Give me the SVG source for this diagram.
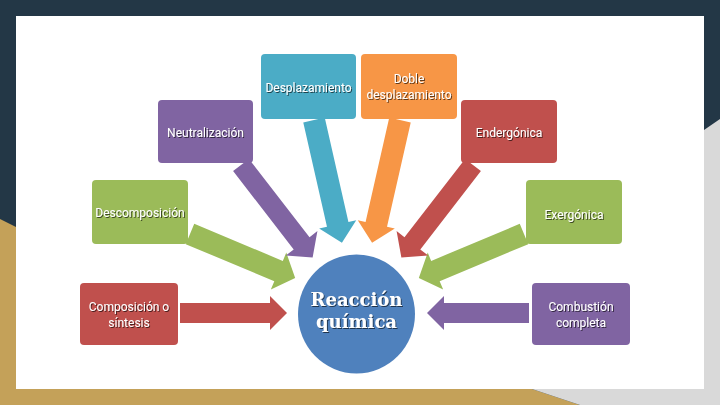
<svg xmlns="http://www.w3.org/2000/svg" width="720" height="405" viewBox="0 0 720 405">
<defs>
<style>
.lbl{font-family:Roboto,"Liberation Sans",sans-serif;font-size:12px;fill:#fff;text-anchor:middle;filter:url(#ts)}
.big{font-family:"DejaVu Serif","Liberation Serif",serif;font-weight:bold;font-size:18px;fill:#fff;text-anchor:middle;filter:url(#ts)}
.blue{fill:#4bacc6}.orange{fill:#f79646}.purple{fill:#8064a2}.red{fill:#c0504d}.green{fill:#9bbb59}
</style>
<filter id="ts" x="-20%" y="-40%" width="140%" height="180%">
<feDropShadow dx="1" dy="1" stdDeviation="0.6" flood-color="#000" flood-opacity="0.6"/>
</filter>
</defs>
<rect width="720" height="405" fill="#233746"/>
<polygon points="0,219 16,227 16,389 532,389 580,405 0,405" fill="#c4a159"/>
<polygon points="720,119 704,130 704,389 532,389 580,405 720,405" fill="#d9d9d9"/>
<rect x="16" y="16" width="688" height="373" fill="#fff"/>

<g id="connectors">
<path class="red" transform="translate(180,313)" d="M0,-10 L90,-10 L90,-17 L107,0 L90,17 L90,10 L0,10 Z"/>
<path class="purple" transform="translate(529,313) rotate(180)" d="M0,-10 L85,-10 L85,-17 L102,0 L85,17 L85,10 L0,10 Z"/>
<path class="green" transform="translate(190,234) rotate(22.7)" d="M0,-11 L96,-11 L96,-20 L114,0 L96,20 L96,11 L0,11 Z"/>
<path class="green" transform="translate(524,234) rotate(157.3)" d="M0,-11 L96,-11 L96,-20 L114,0 L96,20 L96,11 L0,11 Z"/>
<path class="purple" transform="translate(241,165) rotate(52.25)" d="M0,-10 L99,-10 L99,-20 L117,0 L99,20 L99,10 L0,10 Z"/>
<path class="red" transform="translate(473,165) rotate(127.75)" d="M0,-10 L99,-10 L99,-20 L117,0 L99,20 L99,10 L0,10 Z"/>
<path class="blue" transform="translate(314,120) rotate(77.2)" d="M0,-11 L107,-11 L107,-19 L126,0 L107,19 L107,11 L0,11 Z"/>
<path class="orange" transform="translate(400,120) rotate(102.8)" d="M0,-11 L107,-11 L107,-19 L126,0 L107,19 L107,11 L0,11 Z"/>
</g>

<g id="n-desplazamiento"><rect class="blue" x="261" y="54" width="95" height="65" rx="4"/><text class="lbl" x="308.5" y="92">Desplazamiento</text></g>
<g id="n-doble"><rect class="orange" x="361" y="54" width="96" height="65" rx="4"/><text class="lbl" x="409" y="83">Doble</text><text class="lbl" x="409" y="99">desplazamiento</text></g>
<g id="n-neutralizacion"><rect class="purple" x="158" y="100" width="95" height="63" rx="4"/><text class="lbl" x="205.5" y="137">Neutralización</text></g>
<g id="n-endergonica"><rect class="red" x="461" y="100" width="96" height="63" rx="4"/><text class="lbl" x="509" y="137">Endergónica</text></g>
<g id="n-descomposicion"><rect class="green" x="92" y="180" width="96" height="64" rx="4"/><text class="lbl" x="140" y="217">Descomposición</text></g>
<g id="n-exergonica"><rect class="green" x="526" y="180" width="96" height="64" rx="4"/><text class="lbl" x="574" y="219">Exergónica</text></g>
<g id="n-composicion"><rect class="red" x="80" y="283" width="98" height="62" rx="4"/><text class="lbl" x="129" y="311">Composición o</text><text class="lbl" x="129" y="327">síntesis</text></g>
<g id="n-combustion"><rect class="purple" x="532" y="283" width="98" height="62" rx="4"/><text class="lbl" x="581" y="311">Combustión</text><text class="lbl" x="581" y="327">completa</text></g>
<g id="n-reaccion"><ellipse cx="356.5" cy="314" rx="58.5" ry="59.5" fill="#4f81bd"/><text class="big" x="356.5" y="306">Reacción</text><text class="big" x="356.5" y="328">química</text></g>
</svg>
